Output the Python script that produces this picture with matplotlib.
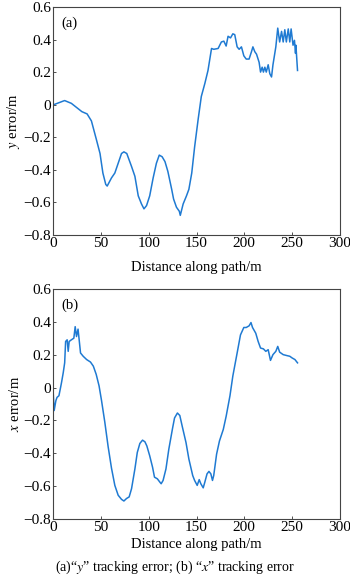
import numpy as np
import matplotlib
matplotlib.use('Agg')
import matplotlib.pyplot as plt

# (a) lateral "y" tracking error along the path
dist_y = [0.7, 10.5, 12, 19, 30, 35.5, 40, 45, 49, 52, 55, 56.5, 61, 64.5, 68, 71.5, 74, 77,
          82, 85.5, 89, 92.4, 95, 97.7, 101, 104.6, 108, 111, 114, 117, 120, 124, 126, 129,
          132, 133, 136, 139.5, 142, 145, 148, 151.7, 155, 158.7, 162, 165.7, 168, 172.6,
          176, 178.6, 181, 183, 185.6, 188, 190, 192.5, 194.6, 197, 199.5, 202, 205, 207.5,
          209, 211, 212.8, 215.5, 217, 218.7, 220, 221.5, 223, 225, 226.7, 228.5, 230, 233,
          235, 237, 239, 240.7, 242.4, 244, 246, 247.6, 249, 251, 252.5, 253.6, 254, 255.7]
err_y = [0.0, 0.022, 0.025, 0.008, -0.043, -0.057, -0.10, -0.21, -0.30, -0.42, -0.49, -0.50,
         -0.45, -0.42, -0.36, -0.30, -0.29, -0.30, -0.38, -0.44, -0.56, -0.61, -0.64, -0.62,
         -0.56, -0.45, -0.36, -0.31, -0.32, -0.35, -0.41, -0.52, -0.58, -0.63, -0.655, -0.68,
         -0.61, -0.56, -0.52, -0.42, -0.26, -0.09, 0.05, 0.13, 0.21, 0.345, 0.34, 0.345,
         0.385, 0.39, 0.36, 0.42, 0.41, 0.435, 0.43, 0.355, 0.34, 0.355, 0.30, 0.28, 0.28,
         0.325, 0.355, 0.325, 0.31, 0.26, 0.20, 0.23, 0.20, 0.23, 0.20, 0.245, 0.19, 0.17,
         0.245, 0.355, 0.47, 0.385, 0.45, 0.385, 0.46, 0.385, 0.465, 0.385, 0.465, 0.365,
         0.395, 0.315, 0.365, 0.21]

# (b) longitudinal "x" tracking error along the path
dist_x = [0, 1, 2.8, 4, 6, 7.7, 8.7, 10.5, 12, 13, 14.6, 15.7, 16.7, 19, 21.6, 23, 24.4, 26,
          27, 28.6, 31.4, 35, 39, 42, 45, 48, 50.6, 54, 57.5, 61, 64.5, 68, 71.5, 74, 76.7,
          79.5, 82, 85.5, 88, 90.7, 93.5, 96, 98, 101, 104, 106, 109, 111.6, 113, 115, 118,
          121, 125, 127, 130, 132.5, 135, 139, 142, 146, 148, 150.7, 152.8, 154.5, 157,
          158.7, 161, 163, 165, 166.7, 168, 171, 174, 178, 181, 185, 188, 192.5, 196, 199.5,
          202, 205, 207, 208.6, 212, 214.5, 217, 220, 222.5, 225, 227.4, 230, 233, 235, 237,
          240.7, 244, 247.6, 250, 253, 255.7]
err_x = [-0.03, -0.14, -0.08, -0.06, -0.05, 0.0, 0.03, 0.09, 0.15, 0.28, 0.29, 0.22, 0.28,
         0.29, 0.30, 0.37, 0.31, 0.355, 0.30, 0.21, 0.19, 0.17, 0.155, 0.13, 0.08, 0.01,
         -0.08, -0.21, -0.36, -0.49, -0.595, -0.655, -0.68, -0.69, -0.675, -0.665, -0.615,
         -0.495, -0.395, -0.34, -0.32, -0.33, -0.355, -0.415, -0.485, -0.545, -0.555, -0.575,
         -0.585, -0.565, -0.495, -0.375, -0.245, -0.185, -0.155, -0.17, -0.235, -0.335,
         -0.435, -0.535, -0.565, -0.595, -0.56, -0.585, -0.61, -0.575, -0.525, -0.51, -0.525,
         -0.565, -0.535, -0.405, -0.325, -0.255, -0.175, -0.05, 0.07, 0.21, 0.32, 0.365,
         0.365, 0.375, 0.395, 0.365, 0.33, 0.28, 0.24, 0.235, 0.22, 0.23, 0.165, 0.2, 0.22,
         0.25, 0.215, 0.2, 0.195, 0.19, 0.18, 0.17, 0.15]

xticks = [0, 50, 100, 150, 200, 250, 300]
yticks = [-0.8, -0.6, -0.4, -0.2, 0, 0.2, 0.4, 0.6]
ytick_labels = ['\u22120.8', '\u22120.6', '\u22120.4', '\u22120.2', '0', '0.2', '0.4', '0.6']

plt.rcParams['font.family'] = ['Liberation Serif', 'DejaVu Serif']
plt.rcParams['mathtext.fontset'] = 'stix'
line_color = '#1f7ad2'
tick_fs = 11
label_fs = 10.5

fig = plt.figure(figsize=(3.5, 5.8), dpi=100)
ax1 = fig.add_axes([0.152, 0.595, 0.819, 0.393])
ax2 = fig.add_axes([0.152, 0.105, 0.819, 0.397])

panels = [(ax1, dist_y, err_y, '(a)', 'y', 8), (ax2, dist_x, err_x, '(b)', 'x', 3)]
for ax, d, e, tag, var, xpad in panels:
    ax.plot(d, e, color=line_color, linewidth=1.1)
    ax.set_xlim(0, 300)
    ax.set_ylim(-0.8, 0.6)
    ax.set_xticks(xticks)
    ax.set_yticks(yticks)
    ax.set_yticklabels(ytick_labels)
    ax.tick_params(direction='in', length=2, width=0.6, labelsize=tick_fs, pad=1.5,
                   colors='#333333', labelcolor='black')
    for sp in ax.spines.values():
        sp.set_linewidth(0.8)
        sp.set_color('#444444')
    ax.set_xlabel('Distance along path/m', fontsize=label_fs, labelpad=xpad)
    ax.set_ylabel(r'$\it{' + var + r'}$ error/m', fontsize=label_fs, labelpad=1)
    ax.text(0.03, 0.93, tag, transform=ax.transAxes, fontsize=label_fs, va='center', ha='left')

fig.text(0.5, 0.021, '(a)\u201c' + r'$\it{y}$' + '\u201d tracking error; (b) \u201c' + r'$\it{x}$'
         + '\u201d tracking error', ha='center', va='center', fontsize=10)

fig.savefig('out.png', dpi=100)
